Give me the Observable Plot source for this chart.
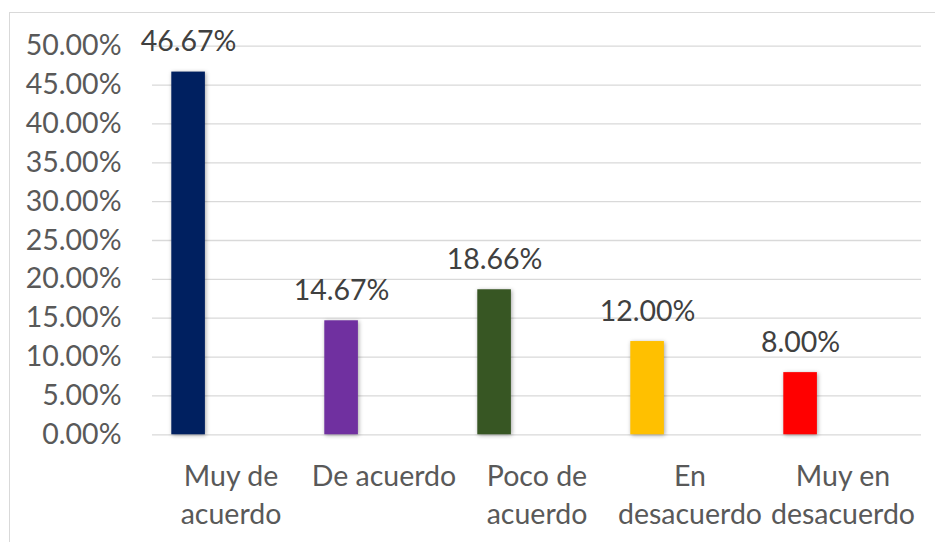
<!DOCTYPE html>
<html>
<head>
<meta charset="utf-8">
<script src="https://cdn.jsdelivr.net/npm/d3@7"></script>
<script src="https://cdn.jsdelivr.net/npm/@observablehq/plot@0.6"></script>
<style>
  html, body { margin: 0; padding: 0; background: #fff; overflow: hidden; }
  #wrap { position: relative; width: 935px; height: 542px; overflow: hidden; }
  #border { position: absolute; left: 9px; top: 12px; width: 1000px; height: 1000px;
            border: 1px solid #d9d9d9; box-sizing: border-box; pointer-events: none; }
  #chart svg g[aria-label="bar"] rect { filter: drop-shadow(1.5px 1.5px 2px rgba(0,0,0,0.35)); }
</style>
</head>
<body>
<div id="wrap"><div id="chart"></div><div id="border"></div></div>
<script>
const categories = ["Muy de acuerdo", "De acuerdo", "Poco de acuerdo", "En desacuerdo", "Muy en desacuerdo"];
const tickLabels = ["Muy de\nacuerdo", "De acuerdo", "Poco de\nacuerdo", "En\ndesacuerdo", "Muy en\ndesacuerdo"];
const values = [0.4667, 0.1467, 0.1866, 0.12, 0.08];
const palette = ["#002060", "#7030A0", "#375623", "#FFC000", "#FF0000"];
const yTicks = [0, 0.05, 0.10, 0.15, 0.20, 0.25, 0.30, 0.35, 0.40, 0.45, 0.50];

const data = categories.map((c, i) => ({category: c, value: values[i]}));
const labelOf = new Map(categories.map((c, i) => [c, tickLabels[i]]));

const font = "Lato, 'Open Sans', sans-serif";
const chart = Plot.plot({
  width: 935,
  height: 542,
  marginLeft: 152,
  marginRight: 14,
  marginTop: 45.7,
  marginBottom: 107.7,
  style: {fontFamily: font, background: "transparent", overflow: "visible"},
  x: {type: "band", domain: categories, padding: 0, axis: null},
  y: {domain: [0, 0.5], axis: null},
  color: {domain: categories, range: palette},
  marks: [
    Plot.ruleY(yTicks, {stroke: "#d9d9d9", strokeWidth: 1.3}),
    Plot.axisY({ticks: yTicks, tickSize: 0, tickPadding: 31, tickFormat: d3.format(".2%"),
                fontSize: 28.5, fill: "#595959", label: null}),
    Plot.axisX({tickSize: 0, tickPadding: 24, tickFormat: d => labelOf.get(d),
                fontSize: 28.5, lineHeight: 1.33, fill: "#595959", label: null}),
    Plot.barY(data, {x: "category", y: "value", fill: "category",
                     insetLeft: 17.3, insetRight: 102.1}),
    Plot.text(data, {x: "category", y: "value", text: d => d3.format(".2%")(d.value),
                     dx: -42.4, dy: -21, lineAnchor: "bottom", fontSize: 28.5, fill: "#404040"})
  ]
});
document.getElementById("chart").appendChild(chart);
</script>
</body>
</html>
